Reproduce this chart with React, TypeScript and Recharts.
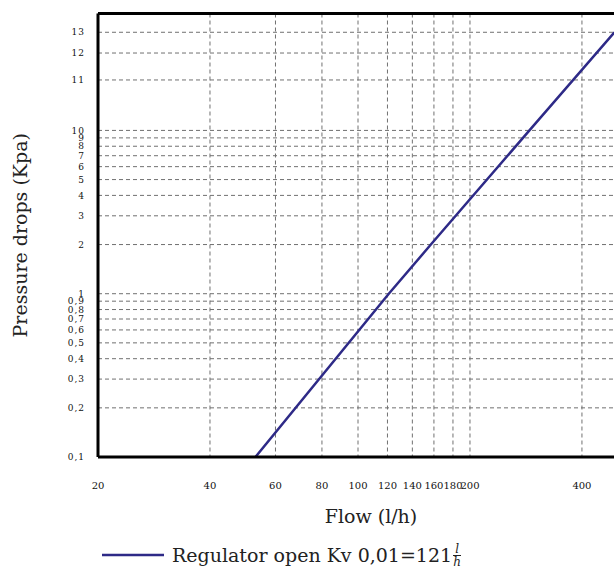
import {
  LineChart,
  Line,
  XAxis,
  YAxis,
  CartesianGrid,
  ReferenceLine,
  Legend,
} from "recharts";

// points
const flow = [53, 121, 157, 289, 489];
const pressure = [0.1, 1, 2, 10, 13];

const flowTicks = [20, 40, 60, 80, 100, 120, 140, 160, 180, 200, 400];
const pressureTicks = [
  0.1, 0.2, 0.3, 0.4, 0.5, 0.6, 0.7, 0.8, 0.9, 1, 2, 3, 4, 5, 6, 7, 8, 9, 10, 11, 12, 13,
];

const SERIES_NAME = "Regulator open Kv 0,01=121";
const LINE_COLOR = "#2e2a87";
const GRID_COLOR = "#707070";
const TICK_FONT = "DejaVu Serif";
const TITLE_FONT = "DejaVu Serif";

// the printed y axis is logarithmic up to 10 kPa, then stretched for 11..13
const UPPER_STEPS: [number, number][] = [
  [10, 1],
  [11, 1.309],
  [12, 1.474],
  [13, 1.601],
  [14, 1.716],
];

function toAxis(v: number) {
  if (v <= 10) return Math.log10(v);
  for (let i = 1; i < UPPER_STEPS.length; i++) {
    const [v0, t0] = UPPER_STEPS[i - 1];
    const [v1, t1] = UPPER_STEPS[i];
    if (v <= v1) return t0 + ((v - v0) / (v1 - v0)) * (t1 - t0);
  }
  return UPPER_STEPS[UPPER_STEPS.length - 1][1];
}

const data = flow.map((f, i) => ({ flow: f, p: toAxis(pressure[i]) }));

function pressureLabel(t: number) {
  const v = pressureTicks.find((p) => Math.abs(toAxis(p) - t) < 1e-6);
  return v === undefined ? "" : String(v).replace(".", ",");
}

function LegendRow() {
  return (
    <div
      style={{
        display: "flex",
        alignItems: "center",
        height: 36,
        paddingLeft: 94,
        fontFamily: TITLE_FONT,
        fontSize: 19,
        color: "#222",
      }}
    >
      <svg width={62} height={6} style={{ marginRight: 8 }}>
        <line x1={0} y1={3} x2={62} y2={3} stroke={LINE_COLOR} strokeWidth={2.5} />
      </svg>
      <span>{SERIES_NAME}</span>
      <span
        style={{
          display: "inline-flex",
          flexDirection: "column",
          alignItems: "center",
          fontSize: 12,
          fontStyle: "italic",
          lineHeight: "12px",
          marginLeft: 1,
        }}
      >
        <span style={{ borderBottom: "1px solid #222", padding: "0 2px" }}>l</span>
        <span>h</span>
      </span>
    </div>
  );
}

export default function App() {
  return (
    <div style={{ width: 610, height: 565, padding: "8px 0 0 8px" }}>
      {/* the plot runs past the window edge like the cropped original; no scrollbars */}
      <style>{"html { overflow: hidden; } body { margin: 0; }"}</style>
      <LineChart
        width={610}
        height={565}
        data={data}
        margin={{ top: 5.5, right: 0, bottom: 0, left: 0 }}
      >
        <CartesianGrid stroke={GRID_COLOR} strokeDasharray="4 3" />
        <XAxis
          dataKey="flow"
          type="number"
          scale="log"
          domain={[20, 500]}
          ticks={flowTicks}
          interval={0}
          allowDataOverflow
          tickLine={false}
          tickSize={0}
          tickMargin={25}
          height={80}
          axisLine={{ stroke: "#000", strokeWidth: 3 }}
          tick={{ fontFamily: TICK_FONT, fontSize: 10, fill: "#111" }}
          label={{
            value: "Flow (l/h)",
            position: "insideBottom",
            offset: 14,
            dx: 13,
            style: { fontFamily: TITLE_FONT, fontSize: 19, fill: "#222" },
          }}
        />
        <YAxis
          dataKey="p"
          type="number"
          domain={[toAxis(0.1), toAxis(14)]}
          ticks={pressureTicks.map(toAxis)}
          interval={0}
          allowDataOverflow
          tickFormatter={pressureLabel}
          tickLine={false}
          tickSize={0}
          tickMargin={13}
          width={90}
          axisLine={{ stroke: "#000", strokeWidth: 3 }}
          tick={{ fontFamily: TICK_FONT, fontSize: 9, fill: "#111", letterSpacing: 1 }}
          label={{
            value: "Pressure drops (Kpa)",
            angle: -90,
            position: "insideLeft",
            offset: 12,
            style: { textAnchor: "middle", fontFamily: TITLE_FONT, fontSize: 19, fill: "#222" },
          }}
        />
        <ReferenceLine y={toAxis(14)} stroke="#000" strokeWidth={3} />
        <Line
          type="linear"
          dataKey="p"
          stroke={LINE_COLOR}
          strokeWidth={2.5}
          dot={false}
          isAnimationActive={false}
        />
        <Legend
          verticalAlign="bottom"
          align="left"
          height={36}
          content={() => <LegendRow />}
        />
      </LineChart>
    </div>
  );
}
